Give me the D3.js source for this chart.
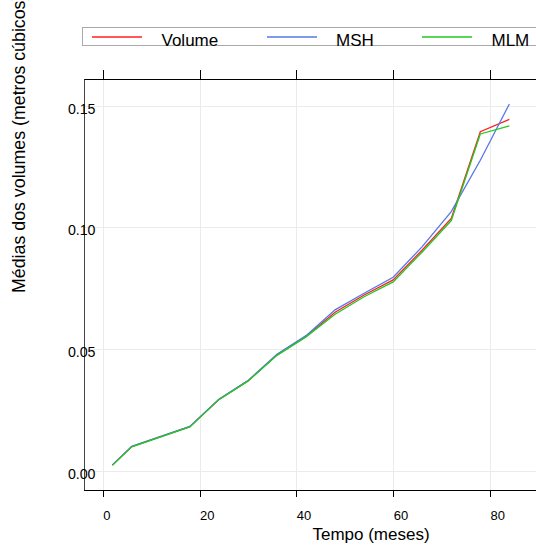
<!DOCTYPE html>
<html>
<head>
<meta charset="utf-8">
<script src="https://cdn.jsdelivr.net/npm/d3@7"></script>
<style>
  body { margin: 0; background: #fff; }
  svg { display: block; font-family: "Liberation Sans", Arial, sans-serif; }
</style>
</head>
<body>
<svg width="536" height="553"></svg>
<script>
// meses
const meses = [2, 6, 18, 24, 30, 36, 42, 48, 54, 60, 66, 72, 78, 84];
// médias observadas e estimadas
const volume = [0.0023, 0.0099, 0.0181, 0.0293, 0.0369, 0.0476, 0.0552, 0.0651, 0.0722, 0.0784, 0.0907, 0.1037, 0.1393, 0.1444];
const msh    = [0.0024, 0.0100, 0.0182, 0.0294, 0.0370, 0.0478, 0.0555, 0.0661, 0.0729, 0.0795, 0.0921, 0.1065, 0.1276, 0.1507];
const mlm    = [0.0022, 0.0098, 0.0180, 0.0292, 0.0368, 0.0474, 0.0550, 0.0643, 0.0715, 0.0776, 0.0899, 0.1028, 0.1384, 0.1417];

const xTicks = [0, 20, 40, 60, 80];
const yTicks = [0, 0.05, 0.10, 0.15];
const nomes = ["Volume", "MSH", "MLM"];
const cores = ["#ff2020", "#5577e6", "#22c822"];

const svg = d3.select("svg");
const pLeft = 84, pTop = 79.5, pBottom = 490, pRight = 540;

const x = d3.scaleLinear().domain([0, 80]).range([102.7, 490]);
const y = d3.scaleLinear().domain([0, 0.15]).range([470.7, 105.7]);

// grade
svg.append("g").selectAll("line").data(xTicks).enter().append("line")
  .attr("x1", d => Math.round(x(d)) + 0.5).attr("x2", d => Math.round(x(d)) + 0.5)
  .attr("y1", pTop).attr("y2", pBottom)
  .attr("stroke", "#ebebeb");
svg.append("g").selectAll("line").data(yTicks).enter().append("line")
  .attr("x1", pLeft).attr("x2", pRight)
  .attr("y1", d => Math.round(y(d)) + 0.5).attr("y2", d => Math.round(y(d)) + 0.5)
  .attr("stroke", "#ebebeb");

// eixos
svg.append("line").attr("x1", pLeft).attr("x2", pRight).attr("y1", pBottom + 0.5).attr("y2", pBottom + 0.5).attr("stroke", "#000");
svg.append("line").attr("x1", pLeft).attr("x2", pRight).attr("y1", pTop).attr("y2", pTop).attr("stroke", "#000");
svg.append("line").attr("x1", pLeft + 0.5).attr("x2", pLeft + 0.5).attr("y1", pTop).attr("y2", pBottom).attr("stroke", "#444");

// ticks de baixo e de cima
svg.append("g").selectAll("line").data(xTicks).enter().append("line")
  .attr("x1", d => Math.round(x(d)) + 0.5).attr("x2", d => Math.round(x(d)) + 0.5)
  .attr("y1", pBottom).attr("y2", pBottom + 7)
  .attr("stroke", "#000");
svg.append("g").selectAll("line").data(xTicks).enter().append("line")
  .attr("x1", d => Math.round(x(d)) + 0.5).attr("x2", d => Math.round(x(d)) + 0.5)
  .attr("y1", 70).attr("y2", pTop)
  .attr("stroke", "#000");

svg.append("g").selectAll("text").data(xTicks).enter().append("text")
  .attr("x", d => x(d) + 0.5).attr("y", 519.5)
  .attr("font-size", 13).attr("fill", "#000")
  .text(d => d);

svg.append("g").selectAll("text").data(yTicks).enter().append("text")
  .attr("x", 95.5).attr("y", d => y(d) + 7.8)
  .attr("text-anchor", "end")
  .attr("font-size", 14.2).attr("fill", "#000")
  .text(d => d.toFixed(2));

// linhas
const linha = d3.line().x(d => x(d[0])).y(d => y(d[1]));
[volume, msh, mlm].forEach((serie, i) => {
  svg.append("path")
    .datum(meses.map((m, j) => [m, serie[j]]))
    .attr("d", linha)
    .attr("fill", "none")
    .attr("stroke", cores[i])
    .attr("stroke-width", 1.3);
});

// títulos
svg.append("text").attr("x", 371).attr("y", 540)
  .attr("text-anchor", "middle").attr("font-size", 17)
  .text("Tempo (meses)");
svg.append("text")
  .attr("transform", "translate(25,293) rotate(-90)")
  .attr("font-size", 17.8)
  .text("Médias dos volumes (metros cúbicos)");

// legenda
svg.append("rect").attr("x", 82.5).attr("y", 27.5).attr("width", 470).attr("height", 18)
  .attr("fill", "#fff").attr("stroke", "#aaa");
const legX = [92, 267, 422];
const txtX = [161.5, 336, 491.5];
nomes.forEach((n, i) => {
  svg.append("line").attr("x1", legX[i]).attr("x2", legX[i] + 50)
    .attr("y1", 37).attr("y2", 37)
    .attr("stroke", cores[i]).attr("stroke-width", 1.3);
  svg.append("text").attr("x", txtX[i]).attr("y", 45.5)
    .attr("font-size", 17).text(n);
});
</script>
</body>
</html>
